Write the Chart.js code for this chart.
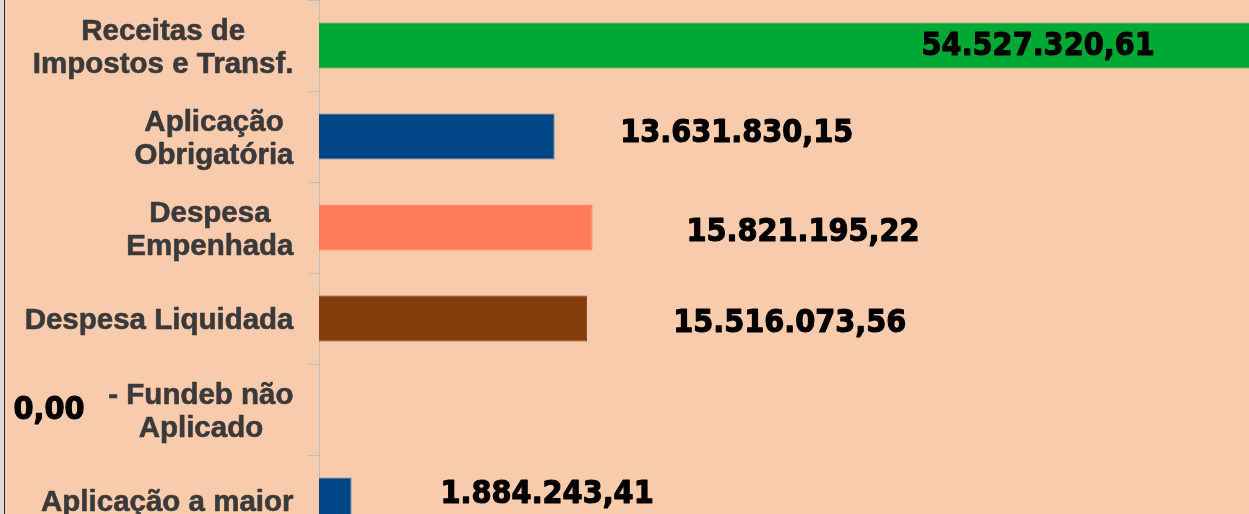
<!DOCTYPE html>
<html>
<head>
<meta charset="utf-8">
<script src="https://cdn.jsdelivr.net/npm/chart.js@4"></script>
<style>
  html, body { margin: 0; padding: 0; overflow: hidden; background: #F8CBAD; }
  canvas { display: block; }
</style>
</head>
<body>
<canvas id="fundebChart" width="1249" height="546"></canvas>
<script>
const categories = [
  ['Receitas de', 'Impostos e Transf.'],
  ['Aplicação', 'Obrigatória'],
  ['Despesa', 'Empenhada'],
  'Despesa Liquidada',
  ['- Fundeb não', 'Aplicado'],
  'Aplicação a maior'
];
const values = [54527320.61, 13631830.15, 15821195.22, 15516073.56, 0, 1884243.41];
const barColors = ['#00A933', '#004586', '#FF7B5A', '#843C0C', '#004586', '#004586'];
const barBorders = ['#00A933', '#4F76A3', '#FF7B5A', '#843C0C', '#004586', '#4F76A3'];

// value labels were placed by hand in the original, so each one gets its own nudge
const labelOffsets = [[-340, 9.5], [65.5, 5.2], [94, 13.2], [86, 13.2], [-305.5, 9.5], [89, 2.5]];

function formatBR(v) {
  const parts = v.toFixed(2).split('.');
  return parts[0].replace(/\B(?=(\d{3})+(?!\d))/g, '.') + ',' + parts[1];
}

const manualLabels = {
  id: 'manualLabels',
  beforeDraw(chart) {
    const {ctx, width, height} = chart;
    ctx.save();
    ctx.fillStyle = '#F8CBAD';
    ctx.fillRect(0, 0, width, height);
    ctx.fillStyle = '#DADADA';
    ctx.fillRect(0, 0, 4, height);
    ctx.fillStyle = '#262626';
    ctx.fillRect(4, 0, 1, height);
    ctx.restore();
  },
  afterDraw(chart) {
    const {ctx} = chart;
    const yScale = chart.scales.y;
    ctx.save();

    // category names: lines centred on each other, block right-aligned
    const size = 29.5, lh = 33, capH = 0.716 * size;
    ctx.font = 'bold ' + size + 'px "Liberation Sans", Arial, sans-serif';
    ctx.fillStyle = '#3A3A3A';
    ctx.strokeStyle = '#3A3A3A';
    ctx.lineWidth = 0.6;
    ctx.lineJoin = 'round';
    ctx.textAlign = 'center';
    ctx.textBaseline = 'alphabetic';
    categories.forEach((cat, i) => {
      const lines = Array.isArray(cat) ? cat : [cat];
      const cy = yScale.getPixelForTick(i);
      const w = Math.max(...lines.map(l => ctx.measureText(l).width));
      const cx = 293.5 - w / 2;
      lines.forEach((line, j) => {
        const y = cy + (j - (lines.length - 1) / 2) * lh + capH / 2;
        ctx.fillText(line, cx, y);
        ctx.strokeText(line, cx, y);
      });
    });

    ctx.font = 'bold 32px "DejaVu Sans Condensed", "DejaVu Sans", sans-serif';
    ctx.fillStyle = '#000000';
    ctx.strokeStyle = '#000000';
    ctx.lineWidth = 1.1;
    ctx.textAlign = 'left';
    chart.getDatasetMeta(0).data.forEach((bar, i) => {
      const [dx, dy] = labelOffsets[i];
      const txt = formatBR(values[i]);
      ctx.fillText(txt, bar.x + dx, bar.y + dy);
      ctx.strokeText(txt, bar.x + dx, bar.y + dy);
    });
    ctx.restore();
  }
};

new Chart(document.getElementById('fundebChart'), {
  type: 'bar',
  data: {
    labels: categories,
    datasets: [{
      data: values,
      backgroundColor: barColors,
      borderColor: barBorders,
      borderWidth: 1,
      categoryPercentage: 1,
      barPercentage: 0.505
    }]
  },
  options: {
    indexAxis: 'y',
    responsive: false,
    animation: false,
    layout: { padding: 0 },
    scales: {
      x: { display: false, min: 0, max: 53800000 },
      y: {
        z: 1,
        grid: {
          offset: true,
          drawOnChartArea: false,
          drawTicks: true,
          tickLength: 10,
          color: '#BDBDBD'
        },
        border: { color: '#BDBDBD', width: 1 },
        ticks: { display: false },
        afterFit(scale) {
          scale.width = 319;
          scale.paddingTop = 0;
          scale.paddingBottom = 0;
        }
      }
    },
    plugins: {
      legend: { display: false },
      tooltip: { enabled: false }
    }
  },
  plugins: [manualLabels]
});
</script>
</body>
</html>
